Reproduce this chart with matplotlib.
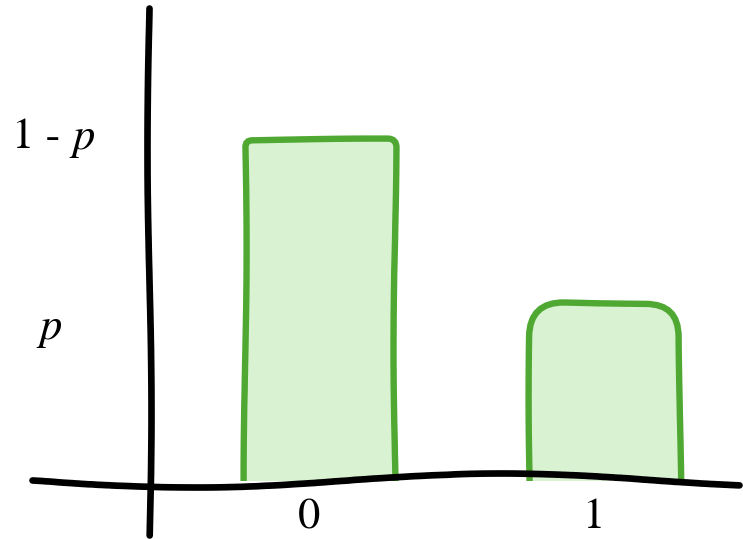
import numpy as np
import matplotlib
matplotlib.use("Agg")
import matplotlib.pyplot as plt
from matplotlib.patches import FancyBboxPatch, Rectangle

plt.rcParams['font.family'] = ['STIXGeneral', 'DejaVu Serif']

# bernoulli pmf, hand-drawn look
p = 0.34
outcomes = [0, 1]
probs = [1 - p, p]
xlabels = ['0', '1']

green_edge = '#4fa832'
green_fill = '#d9f2d2'

fig = plt.figure(figsize=(7.43, 5.39), dpi=100)
ax = fig.add_axes([0, 0, 1, 1])
ax.set_xlim(-1.123, 1.484)
ax.set_ylim(-0.126, 0.936)
ax.axis('off')

width = 0.526
rounding = [0.025, 0.12]
aspect = 285 / 507.6
clip = Rectangle((-2, -0.012), 5, 2, transform=ax.transData)
for x, h, r in zip(outcomes, probs, rounding):
    patch = FancyBboxPatch((x - width / 2, -0.15), width, h + 0.15,
                           boxstyle='round,pad=0,rounding_size=%f' % r,
                           mutation_aspect=aspect,
                           facecolor=green_fill, edgecolor=green_edge,
                           linewidth=4.6, zorder=2)
    patch.set_sketch_params(scale=1.5, length=500, randomness=2)
    ax.add_patch(patch)
    patch.set_clip_path(clip)

# axes drawn as rough strokes
xaxis, = ax.plot([-1.01, 1.47], [-0.01, -0.01], color='black', lw=4.8,
                 solid_capstyle='round', zorder=3)
xaxis.set_sketch_params(scale=7, length=700, randomness=2)
yaxis, = ax.plot([-0.6, -0.6], [0.92, -0.118], color='black', lw=4.8,
                 solid_capstyle='round', zorder=3)
yaxis.set_sketch_params(scale=2, length=600, randomness=2)

for x, lab in zip(outcomes, xlabels):
    ax.text(x - 0.04, -0.085, lab, fontsize=32, ha='center', va='center')

ax.text(-0.975, 0.665, '1 - ', fontsize=32, ha='center', va='center')
ax.text(-0.83, 0.665, 'p', style='italic', fontsize=32,
        ha='center', va='center')
ax.text(-0.945, 0.29, 'p', style='italic', fontsize=32,
        ha='center', va='center')

fig.savefig('out.png', dpi=100)
